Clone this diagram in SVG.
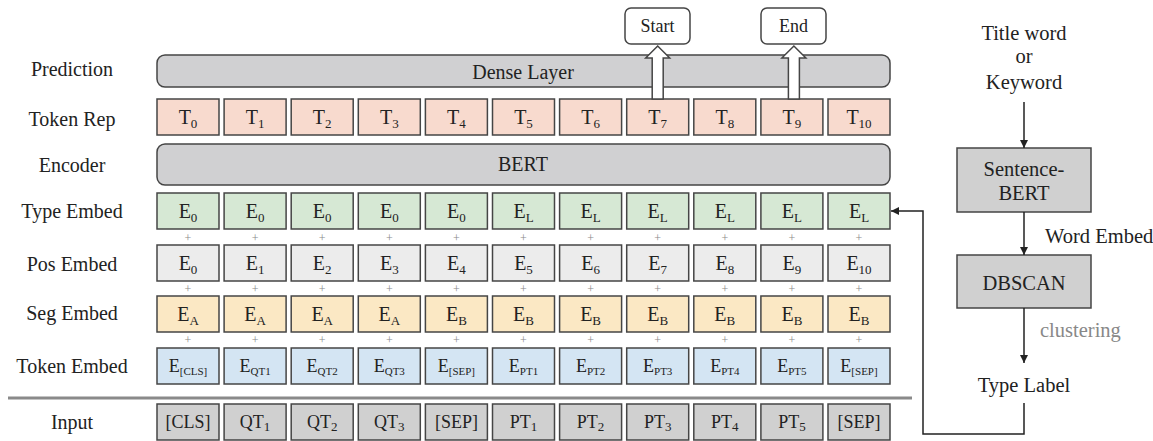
<svg xmlns="http://www.w3.org/2000/svg" width="1153" height="441" viewBox="0 0 1153 441" font-family="'Liberation Serif', 'DejaVu Serif', serif">
  <defs>
    <style>
      text { font-family: 'Liberation Serif', 'DejaVu Serif', serif; fill: #222; }
      .lbl { font-size: 20px; text-anchor: middle; }
      .rlbl { font-size: 20.5px; text-anchor: middle; }
      .t { font-size: 20px; text-anchor: middle; }
      .te { font-size: 18px; text-anchor: middle; }
      .ti { font-size: 18px; text-anchor: middle; }
      .s { font-size: 13px; }
      .ss { font-size: 11px; }
      .plus { font-size: 12px; fill: #8a8a8a; text-anchor: middle; }
      .box { stroke: #454545; stroke-width: 1.5; }
      .rep { fill: #f8dace; }
      .typ { fill: #d6e8d4; }
      .pos { fill: #ececec; }
      .seg { fill: #fbe8c4; }
      .tok { fill: #d4e5f3; }
      .inp { fill: #d0d0d0; }
      .bar { fill: #d0d0d2; stroke: #454545; stroke-width: 1.5; }
      .gbox { fill: #d0d0d0; stroke: #454545; stroke-width: 1.5; }
      .out { fill: #ffffff; stroke: #454545; stroke-width: 1.5; }
      .hollow { fill: #ffffff; stroke: #454545; stroke-width: 1.5; stroke-linejoin: miter; }
      .wire { fill: none; stroke: #222; stroke-width: 1.5; }
    </style>
    <marker id="arr" viewBox="0 0 10 10" refX="10" refY="5" markerWidth="8" markerHeight="8" markerUnits="userSpaceOnUse" orient="auto">
      <path d="M0,0 L10,5 L0,10 z" fill="#222"/>
    </marker>
  </defs>

  <!-- row labels -->
  <g id="row-labels">
    <text class="lbl" x="72" y="76">Prediction</text>
    <text class="lbl" x="72" y="126">Token Rep</text>
    <text class="lbl" x="72" y="172">Encoder</text>
    <text class="lbl" x="72" y="218">Type Embed</text>
    <text class="lbl" x="72" y="271">Pos Embed</text>
    <text class="lbl" x="72" y="320">Seg Embed</text>
    <text class="lbl" x="72" y="373">Token Embed</text>
    <text class="lbl" x="72" y="429">Input</text>
  </g>

  <!-- separator between embeddings and input -->
  <line x1="8" y1="398" x2="912" y2="398" stroke="#8a8a8a" stroke-width="3"/>

  <!-- dense layer -->
  <g id="dense-layer">
    <rect class="bar" x="157" y="55" width="733" height="32" rx="8"/>
    <text class="lbl" x="523" y="79">Dense Layer</text>
  </g>

  <!-- token representations -->
  <g id="token-rep">
    <g id="T0"><rect class="box rep" x="157" y="99" width="62" height="36"/><text class="t" x="188" y="124">T<tspan class="s" dy="4">0</tspan></text></g>
    <g id="T1"><rect class="box rep" x="224.1" y="99" width="62" height="36"/><text class="t" x="255.1" y="124">T<tspan class="s" dy="4">1</tspan></text></g>
    <g id="T2"><rect class="box rep" x="291.2" y="99" width="62" height="36"/><text class="t" x="322.2" y="124">T<tspan class="s" dy="4">2</tspan></text></g>
    <g id="T3"><rect class="box rep" x="358.3" y="99" width="62" height="36"/><text class="t" x="389.3" y="124">T<tspan class="s" dy="4">3</tspan></text></g>
    <g id="T4"><rect class="box rep" x="425.4" y="99" width="62" height="36"/><text class="t" x="456.4" y="124">T<tspan class="s" dy="4">4</tspan></text></g>
    <g id="T5"><rect class="box rep" x="492.5" y="99" width="62" height="36"/><text class="t" x="523.5" y="124">T<tspan class="s" dy="4">5</tspan></text></g>
    <g id="T6"><rect class="box rep" x="559.6" y="99" width="62" height="36"/><text class="t" x="590.6" y="124">T<tspan class="s" dy="4">6</tspan></text></g>
    <g id="T7"><rect class="box rep" x="626.7" y="99" width="62" height="36"/><text class="t" x="657.7" y="124">T<tspan class="s" dy="4">7</tspan></text></g>
    <g id="T8"><rect class="box rep" x="693.8" y="99" width="62" height="36"/><text class="t" x="724.8" y="124">T<tspan class="s" dy="4">8</tspan></text></g>
    <g id="T9"><rect class="box rep" x="760.9" y="99" width="62" height="36"/><text class="t" x="791.9" y="124">T<tspan class="s" dy="4">9</tspan></text></g>
    <g id="T10"><rect class="box rep" x="828" y="99" width="62" height="36"/><text class="t" x="859" y="124">T<tspan class="s" dy="4">10</tspan></text></g>
  </g>

  <!-- start / end outputs -->
  <g id="start">
    <rect class="out" x="625" y="8" width="65" height="36" rx="6"/>
    <text class="t" x="657.5" y="32" style="font-size:18px">Start</text>
  </g>
  <g id="end">
    <rect class="out" x="761" y="8" width="65" height="36" rx="6"/>
    <text class="t" x="793.5" y="32" style="font-size:18px">End</text>
  </g>

  <!-- BERT encoder -->
  <g id="bert">
    <rect class="bar" x="157" y="144" width="733" height="41" rx="8"/>
    <text class="lbl" x="523" y="171">BERT</text>
  </g>

  <!-- type embeddings -->
  <g id="type-embed">
    <g id="type0"><rect class="box typ" x="157" y="193" width="62" height="36"/><text class="t" x="188" y="218">E<tspan class="s" dy="4">0</tspan></text></g>
    <g id="type1"><rect class="box typ" x="224.1" y="193" width="62" height="36"/><text class="t" x="255.1" y="218">E<tspan class="s" dy="4">0</tspan></text></g>
    <g id="type2"><rect class="box typ" x="291.2" y="193" width="62" height="36"/><text class="t" x="322.2" y="218">E<tspan class="s" dy="4">0</tspan></text></g>
    <g id="type3"><rect class="box typ" x="358.3" y="193" width="62" height="36"/><text class="t" x="389.3" y="218">E<tspan class="s" dy="4">0</tspan></text></g>
    <g id="type4"><rect class="box typ" x="425.4" y="193" width="62" height="36"/><text class="t" x="456.4" y="218">E<tspan class="s" dy="4">0</tspan></text></g>
    <g id="type5"><rect class="box typ" x="492.5" y="193" width="62" height="36"/><text class="t" x="523.5" y="218">E<tspan class="s" dy="4">L</tspan></text></g>
    <g id="type6"><rect class="box typ" x="559.6" y="193" width="62" height="36"/><text class="t" x="590.6" y="218">E<tspan class="s" dy="4">L</tspan></text></g>
    <g id="type7"><rect class="box typ" x="626.7" y="193" width="62" height="36"/><text class="t" x="657.7" y="218">E<tspan class="s" dy="4">L</tspan></text></g>
    <g id="type8"><rect class="box typ" x="693.8" y="193" width="62" height="36"/><text class="t" x="724.8" y="218">E<tspan class="s" dy="4">L</tspan></text></g>
    <g id="type9"><rect class="box typ" x="760.9" y="193" width="62" height="36"/><text class="t" x="791.9" y="218">E<tspan class="s" dy="4">L</tspan></text></g>
    <g id="type10"><rect class="box typ" x="828" y="193" width="62" height="36"/><text class="t" x="859" y="218">E<tspan class="s" dy="4">L</tspan></text></g>
  </g>

  <!-- position embeddings -->
  <g id="pos-embed">
    <g id="pos0"><rect class="box pos" x="157" y="245" width="62" height="36"/><text class="t" x="188" y="270">E<tspan class="s" dy="4">0</tspan></text></g>
    <g id="pos1"><rect class="box pos" x="224.1" y="245" width="62" height="36"/><text class="t" x="255.1" y="270">E<tspan class="s" dy="4">1</tspan></text></g>
    <g id="pos2"><rect class="box pos" x="291.2" y="245" width="62" height="36"/><text class="t" x="322.2" y="270">E<tspan class="s" dy="4">2</tspan></text></g>
    <g id="pos3"><rect class="box pos" x="358.3" y="245" width="62" height="36"/><text class="t" x="389.3" y="270">E<tspan class="s" dy="4">3</tspan></text></g>
    <g id="pos4"><rect class="box pos" x="425.4" y="245" width="62" height="36"/><text class="t" x="456.4" y="270">E<tspan class="s" dy="4">4</tspan></text></g>
    <g id="pos5"><rect class="box pos" x="492.5" y="245" width="62" height="36"/><text class="t" x="523.5" y="270">E<tspan class="s" dy="4">5</tspan></text></g>
    <g id="pos6"><rect class="box pos" x="559.6" y="245" width="62" height="36"/><text class="t" x="590.6" y="270">E<tspan class="s" dy="4">6</tspan></text></g>
    <g id="pos7"><rect class="box pos" x="626.7" y="245" width="62" height="36"/><text class="t" x="657.7" y="270">E<tspan class="s" dy="4">7</tspan></text></g>
    <g id="pos8"><rect class="box pos" x="693.8" y="245" width="62" height="36"/><text class="t" x="724.8" y="270">E<tspan class="s" dy="4">8</tspan></text></g>
    <g id="pos9"><rect class="box pos" x="760.9" y="245" width="62" height="36"/><text class="t" x="791.9" y="270">E<tspan class="s" dy="4">9</tspan></text></g>
    <g id="pos10"><rect class="box pos" x="828" y="245" width="62" height="36"/><text class="t" x="859" y="270">E<tspan class="s" dy="4">10</tspan></text></g>
  </g>

  <!-- segment embeddings -->
  <g id="seg-embed">
    <g id="seg0"><rect class="box seg" x="157" y="296" width="62" height="36"/><text class="t" x="188" y="321">E<tspan class="s" dy="4">A</tspan></text></g>
    <g id="seg1"><rect class="box seg" x="224.1" y="296" width="62" height="36"/><text class="t" x="255.1" y="321">E<tspan class="s" dy="4">A</tspan></text></g>
    <g id="seg2"><rect class="box seg" x="291.2" y="296" width="62" height="36"/><text class="t" x="322.2" y="321">E<tspan class="s" dy="4">A</tspan></text></g>
    <g id="seg3"><rect class="box seg" x="358.3" y="296" width="62" height="36"/><text class="t" x="389.3" y="321">E<tspan class="s" dy="4">A</tspan></text></g>
    <g id="seg4"><rect class="box seg" x="425.4" y="296" width="62" height="36"/><text class="t" x="456.4" y="321">E<tspan class="s" dy="4">B</tspan></text></g>
    <g id="seg5"><rect class="box seg" x="492.5" y="296" width="62" height="36"/><text class="t" x="523.5" y="321">E<tspan class="s" dy="4">B</tspan></text></g>
    <g id="seg6"><rect class="box seg" x="559.6" y="296" width="62" height="36"/><text class="t" x="590.6" y="321">E<tspan class="s" dy="4">B</tspan></text></g>
    <g id="seg7"><rect class="box seg" x="626.7" y="296" width="62" height="36"/><text class="t" x="657.7" y="321">E<tspan class="s" dy="4">B</tspan></text></g>
    <g id="seg8"><rect class="box seg" x="693.8" y="296" width="62" height="36"/><text class="t" x="724.8" y="321">E<tspan class="s" dy="4">B</tspan></text></g>
    <g id="seg9"><rect class="box seg" x="760.9" y="296" width="62" height="36"/><text class="t" x="791.9" y="321">E<tspan class="s" dy="4">B</tspan></text></g>
    <g id="seg10"><rect class="box seg" x="828" y="296" width="62" height="36"/><text class="t" x="859" y="321">E<tspan class="s" dy="4">B</tspan></text></g>
  </g>

  <!-- token embeddings -->
  <g id="token-embed">
    <g id="tok0"><rect class="box tok" x="157" y="348" width="62" height="36"/><text class="te" x="188" y="372">E<tspan class="ss" dy="3">[CLS]</tspan></text></g>
    <g id="tok1"><rect class="box tok" x="224.1" y="348" width="62" height="36"/><text class="te" x="255.1" y="372">E<tspan class="ss" dy="3">QT1</tspan></text></g>
    <g id="tok2"><rect class="box tok" x="291.2" y="348" width="62" height="36"/><text class="te" x="322.2" y="372">E<tspan class="ss" dy="3">QT2</tspan></text></g>
    <g id="tok3"><rect class="box tok" x="358.3" y="348" width="62" height="36"/><text class="te" x="389.3" y="372">E<tspan class="ss" dy="3">QT3</tspan></text></g>
    <g id="tok4"><rect class="box tok" x="425.4" y="348" width="62" height="36"/><text class="te" x="456.4" y="372">E<tspan class="ss" dy="3">[SEP]</tspan></text></g>
    <g id="tok5"><rect class="box tok" x="492.5" y="348" width="62" height="36"/><text class="te" x="523.5" y="372">E<tspan class="ss" dy="3">PT1</tspan></text></g>
    <g id="tok6"><rect class="box tok" x="559.6" y="348" width="62" height="36"/><text class="te" x="590.6" y="372">E<tspan class="ss" dy="3">PT2</tspan></text></g>
    <g id="tok7"><rect class="box tok" x="626.7" y="348" width="62" height="36"/><text class="te" x="657.7" y="372">E<tspan class="ss" dy="3">PT3</tspan></text></g>
    <g id="tok8"><rect class="box tok" x="693.8" y="348" width="62" height="36"/><text class="te" x="724.8" y="372">E<tspan class="ss" dy="3">PT4</tspan></text></g>
    <g id="tok9"><rect class="box tok" x="760.9" y="348" width="62" height="36"/><text class="te" x="791.9" y="372">E<tspan class="ss" dy="3">PT5</tspan></text></g>
    <g id="tok10"><rect class="box tok" x="828" y="348" width="62" height="36"/><text class="te" x="859" y="372">E<tspan class="ss" dy="3">[SEP]</tspan></text></g>
  </g>

  <!-- input tokens -->
  <g id="input">
    <g id="in0"><rect class="box inp" x="157" y="404" width="62" height="36"/><text class="ti" x="188" y="428">[CLS]</text></g>
    <g id="in1"><rect class="box inp" x="224.1" y="404" width="62" height="36"/><text class="ti" x="255.1" y="428">QT<tspan class="s" dy="3">1</tspan></text></g>
    <g id="in2"><rect class="box inp" x="291.2" y="404" width="62" height="36"/><text class="ti" x="322.2" y="428">QT<tspan class="s" dy="3">2</tspan></text></g>
    <g id="in3"><rect class="box inp" x="358.3" y="404" width="62" height="36"/><text class="ti" x="389.3" y="428">QT<tspan class="s" dy="3">3</tspan></text></g>
    <g id="in4"><rect class="box inp" x="425.4" y="404" width="62" height="36"/><text class="ti" x="456.4" y="428">[SEP]</text></g>
    <g id="in5"><rect class="box inp" x="492.5" y="404" width="62" height="36"/><text class="ti" x="523.5" y="428">PT<tspan class="s" dy="3">1</tspan></text></g>
    <g id="in6"><rect class="box inp" x="559.6" y="404" width="62" height="36"/><text class="ti" x="590.6" y="428">PT<tspan class="s" dy="3">2</tspan></text></g>
    <g id="in7"><rect class="box inp" x="626.7" y="404" width="62" height="36"/><text class="ti" x="657.7" y="428">PT<tspan class="s" dy="3">3</tspan></text></g>
    <g id="in8"><rect class="box inp" x="693.8" y="404" width="62" height="36"/><text class="ti" x="724.8" y="428">PT<tspan class="s" dy="3">4</tspan></text></g>
    <g id="in9"><rect class="box inp" x="760.9" y="404" width="62" height="36"/><text class="ti" x="791.9" y="428">PT<tspan class="s" dy="3">5</tspan></text></g>
    <g id="in10"><rect class="box inp" x="828" y="404" width="62" height="36"/><text class="ti" x="859" y="428">[SEP]</text></g>
  </g>

  <!-- plus signs between embedding rows -->
  <g id="plus-signs">
    <text class="plus" x="188" y="242">+</text><text class="plus" x="255.1" y="242">+</text><text class="plus" x="322.2" y="242">+</text><text class="plus" x="389.3" y="242">+</text><text class="plus" x="456.4" y="242">+</text><text class="plus" x="523.5" y="242">+</text><text class="plus" x="590.6" y="242">+</text><text class="plus" x="657.7" y="242">+</text><text class="plus" x="724.8" y="242">+</text><text class="plus" x="791.9" y="242">+</text><text class="plus" x="859" y="242">+</text>
    <text class="plus" x="188" y="293">+</text><text class="plus" x="255.1" y="293">+</text><text class="plus" x="322.2" y="293">+</text><text class="plus" x="389.3" y="293">+</text><text class="plus" x="456.4" y="293">+</text><text class="plus" x="523.5" y="293">+</text><text class="plus" x="590.6" y="293">+</text><text class="plus" x="657.7" y="293">+</text><text class="plus" x="724.8" y="293">+</text><text class="plus" x="791.9" y="293">+</text><text class="plus" x="859" y="293">+</text>
    <text class="plus" x="188" y="344">+</text><text class="plus" x="255.1" y="344">+</text><text class="plus" x="322.2" y="344">+</text><text class="plus" x="389.3" y="344">+</text><text class="plus" x="456.4" y="344">+</text><text class="plus" x="523.5" y="344">+</text><text class="plus" x="590.6" y="344">+</text><text class="plus" x="657.7" y="344">+</text><text class="plus" x="724.8" y="344">+</text><text class="plus" x="791.9" y="344">+</text><text class="plus" x="859" y="344">+</text>
  </g>

  <!-- type label pipeline -->
  <g id="title-word">
    <text class="rlbl" x="1024" y="40">Title word</text>
    <text class="rlbl" x="1024" y="63">or</text>
    <text class="rlbl" x="1024" y="89">Keyword</text>
  </g>
  <g id="sentence-bert">
    <rect class="gbox" x="957" y="148" width="134" height="64"/>
    <text class="rlbl" x="1024" y="176">Sentence-</text>
    <text class="rlbl" x="1024" y="200">BERT</text>
  </g>
  <g id="dbscan">
    <rect class="gbox" x="957" y="255" width="134" height="53"/>
    <text class="rlbl" x="1024" y="290">DBSCAN</text>
  </g>
  <g id="type-label">
    <text class="rlbl" x="1024" y="392">Type Label</text>
  </g>

  <!-- connectors -->
  <g id="connectors">
    <polygon class="hollow" points="652.2,99 652.2,58 645.7,58 657.7,46 669.7,58 663.2,58 663.2,99"/>
    <polygon class="hollow" points="788.4,99 788.4,58 781.9,58 793.9,46 805.9,58 799.4,58 799.4,99"/>
    <line class="wire" x1="1024" y1="102" x2="1024" y2="148" marker-end="url(#arr)"/>
    <line class="wire" x1="1024" y1="212" x2="1024" y2="255" marker-end="url(#arr)"/>
    <text x="1045" y="243" style="font-size:20.5px">Word Embed</text>
    <line class="wire" x1="1024" y1="308" x2="1024" y2="363" marker-end="url(#arr)"/>
    <text x="1040" y="337" style="font-size:20.5px; fill:#888">clustering</text>
    <polyline class="wire" points="1024,403 1024,434 923,434 923,211 891,211" marker-end="url(#arr)"/>
  </g>
</svg>
